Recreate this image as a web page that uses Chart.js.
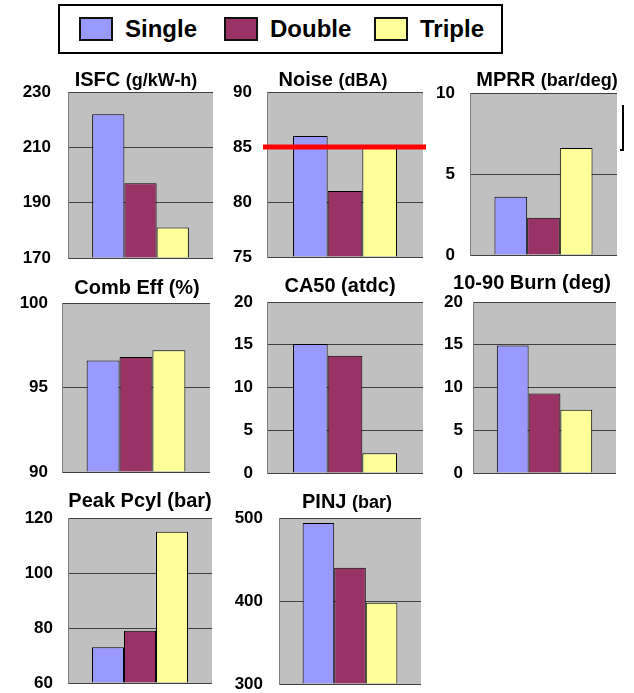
<!DOCTYPE html>
<html>
<head>
<meta charset="utf-8">
<script src="https://cdn.jsdelivr.net/npm/chart.js@4.4.0/dist/chart.umd.min.js"></script>
<style>
  body { margin: 0; background: #fff; }
  #wrap { position: relative; width: 634px; height: 693px; overflow: hidden; font-family: "Liberation Sans", Arial, sans-serif; }
  #legend { position: absolute; left: 58px; top: 4px; width: 445px; height: 50px; border: 2px solid #000; box-sizing: border-box; }
  .item { position: absolute; top: 0; height: 100%; display: flex; align-items: center; font-weight: bold; font-size: 24px; color: #000; }
  .sw { width: 34px; height: 24px; border: 2px solid #111; box-sizing: border-box; margin-right: 12px; }
  canvas { position: absolute; }
</style>
</head>
<body>
<div id="wrap">
  <div id="legend"></div>
</div>
<script>
// series
const series = ['Single', 'Double', 'Triple'];
const seriesColors = ['#9999FF', '#993366', '#FFFF99'];

// panels: ISFC, Noise, MPRR, Comb Eff, CA50, 10-90 Burn, Peak Pcyl, PINJ
const titles = ['ISFC', 'Noise', 'MPRR', 'Comb Eff (%)', 'CA50 (atdc)', '10-90 Burn (deg)', 'Peak Pcyl (bar)', 'PINJ'];
const units = ['(g/kW-h)', '(dBA)', '(bar/deg)', '', '', '', '', '(bar)'];

const singleVals = [222, 86, 3.6, 96.6, 15.1, 14.9, 73, 494];
const doubleVals = [197, 81, 2.3, 96.8, 13.7, 9.3, 79, 440];
const tripleVals = [181, 85, 6.6, 97.2, 2.3, 7.4, 115, 398];

const axisMin = [170, 75, 0, 90, 0, 0, 60, 300];
const axisMax = [230, 90, 10, 100, 20, 20, 120, 500];
const axisStep = [20, 5, 5, 5, 5, 5, 20, 100];

const noiseLimit = 85;

// layout of each plot area in the page (px)
const panels = [
  { l: 68,  t: 92,  r: 213, b: 258, gap: 17, tx: 136, ty: 6 },
  { l: 267, t: 92,  r: 423, b: 257, gap: 15, tx: 333, ty: 6 },
  { l: 470, t: 93,  r: 617, b: 255, gap: 15, tx: 547, ty: 7 },
  { l: 62,  t: 303, r: 210, b: 472, gap: 14, tx: 137, ty: 9 },
  { l: 267, t: 302, r: 423, b: 473, gap: 14, tx: 340, ty: 10 },
  { l: 473, t: 302, r: 616, b: 473, gap: 10, tx: 532, ty: 13 },
  { l: 68,  t: 518, r: 212, b: 683, gap: 15, tx: 140, ty: 11 },
  { l: 279, t: 518, r: 421, b: 684, gap: 16, tx: 347, ty: 10 }
];
// padding must stay above half a tick label + tick padding, else Chart.js grows it
const AXIS_W = 62, TOP_PAD = 40, BOT_PAD = 32, RIGHT_PAD = 16;

Chart.defaults.font.family = '"Liberation Sans", Arial, sans-serif';
Chart.defaults.color = '#000';

// legend built from the series
const legend = document.getElementById('legend');
const legendX = [79, 224, 374];
series.forEach((name, i) => {
  const it = document.createElement('div');
  it.className = 'item';
  it.style.left = (legendX[i] - 58 - 2) + 'px';
  const sw = document.createElement('div');
  sw.className = 'sw';
  sw.style.background = seriesColors[i];
  const tx = document.createElement('span');
  tx.textContent = name;
  it.appendChild(sw);
  it.appendChild(tx);
  legend.appendChild(it);
});

const panelDeco = {
  id: 'panelDeco',
  beforeDraw(chart) {
    const a = chart.chartArea, ctx = chart.ctx;
    ctx.save();
    ctx.fillStyle = '#C0C0C0';
    ctx.fillRect(a.left, a.top, a.right - a.left, a.bottom - a.top);
    ctx.restore();
  },
  afterDraw(chart, args, opts) {
    const a = chart.chartArea, ctx = chart.ctx;
    ctx.save();
    // title: main part + smaller unit part
    const mainFont = 'bold 20px "Liberation Sans", Arial, sans-serif';
    const unitFont = 'bold 18px "Liberation Sans", Arial, sans-serif';
    ctx.font = mainFont;
    const main = opts.title + (opts.unit ? ' ' : '');
    const w1 = ctx.measureText(main).width;
    ctx.font = unitFont;
    const w2 = opts.unit ? ctx.measureText(opts.unit).width : 0;
    let x = opts.cx - (w1 + w2) / 2;
    const y = a.top - opts.ty;
    ctx.fillStyle = '#000';
    ctx.textBaseline = 'alphabetic';
    ctx.textAlign = 'left';
    ctx.font = mainFont;
    ctx.fillText(main, x, y);
    if (opts.unit) {
      ctx.font = unitFont;
      ctx.fillText(opts.unit, x + w1, y);
    }
    // limit line
    if (opts.limit != null) {
      const yy = chart.scales.y.getPixelForValue(opts.limit);
      ctx.strokeStyle = '#FF0000';
      ctx.lineWidth = 5;
      ctx.beginPath();
      ctx.moveTo(a.left - 4, yy);
      ctx.lineTo(a.right + 3, yy);
      ctx.stroke();
    }
    // small bracket mark beside MPRR
    if (opts.bracket) {
      ctx.strokeStyle = '#000';
      ctx.lineWidth = 2;
      ctx.beginPath();
      ctx.moveTo(a.right + 6, a.top + 12);
      ctx.lineTo(a.right + 6, a.top + 57);
      ctx.lineTo(a.right + 3, a.top + 57);
      ctx.stroke();
    }
    ctx.restore();
  }
};

const wrap = document.getElementById('wrap');
panels.forEach((p, i) => {
  const cv = document.createElement('canvas');
  const cw = p.r - p.l + AXIS_W + RIGHT_PAD;
  const ch = p.b - p.t + TOP_PAD + BOT_PAD;
  const cl = p.l - AXIS_W;
  cv.width = cw; cv.height = ch;
  cv.style.left = cl + 'px';
  cv.style.top = (p.t - TOP_PAD) + 'px';
  cv.style.width = cw + 'px';
  cv.style.height = ch + 'px';
  wrap.appendChild(cv);

  const vals = [singleVals[i], doubleVals[i], tripleVals[i]];
  new Chart(cv, {
    type: 'bar',
    data: {
      labels: [''],
      datasets: series.map((s, k) => ({
        label: s,
        data: [vals[k]],
        backgroundColor: seriesColors[k],
        borderColor: '#000',
        borderWidth: 1,
        base: axisMin[i],
        categoryPercentage: 0.667,
        barPercentage: 1.0
      }))
    },
    options: {
      responsive: false,
      animation: false,
      layout: { autoPadding: false, padding: { top: TOP_PAD, bottom: BOT_PAD, left: 0, right: RIGHT_PAD } },
      scales: {
        x: { display: false },
        y: {
          min: axisMin[i],
          max: axisMax[i],
          afterFit(s) { s.width = AXIS_W; },
          ticks: {
            stepSize: axisStep[i],
            padding: p.gap,
            color: '#000',
            font: { size: 17, weight: 'bold' }
          },
          grid: { color: '#404040', lineWidth: 1, drawTicks: false },
          border: { display: true, color: '#808080', width: 1 }
        }
      },
      plugins: {
        legend: { display: false },
        tooltip: { enabled: false },
        panelDeco: {
          title: titles[i],
          unit: units[i],
          cx: p.tx - cl,
          ty: p.ty,
          limit: i === 1 ? noiseLimit : null,
          bracket: i === 2
        }
      }
    },
    plugins: [panelDeco]
  });
});
</script>
</body>
</html>
